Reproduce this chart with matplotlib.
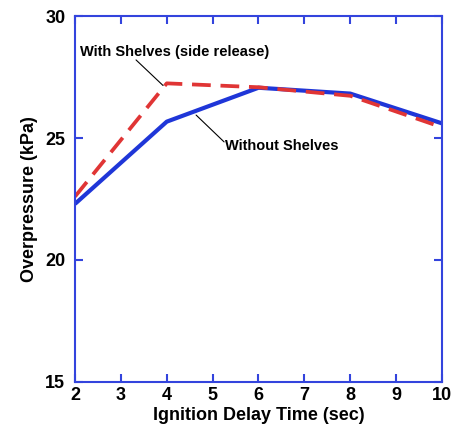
import matplotlib.pyplot as plt

plt.rcParams["font.family"] = ["Liberation Sans", "DejaVu Sans"]
plt.rcParams["font.weight"] = "bold"

delay = [2, 4, 6, 8, 10]
without_shelves = [22.3, 25.67, 27.06, 26.82, 25.6]
with_shelves = [22.6, 27.24, 27.08, 26.73, 25.44]

fig = plt.figure(figsize=(4.58, 4.28), dpi=100)
ax = fig.add_axes([0.1638, 0.1075, 0.8012, 0.8551])

ax.plot(delay, without_shelves, color="#1f36d8", lw=3.0, solid_capstyle="butt")
ax.plot(delay, with_shelves, color="#e03535", lw=2.7, dashes=(5, 2.6))

ax.set_xlim(2, 10)
ax.set_ylim(15, 30)
ax.set_xticks(range(2, 11))
ax.set_yticks([15, 20, 25, 30])
for s in ax.spines.values():
    s.set_color("#3344dd")
    s.set_linewidth(1.5)
ax.tick_params(direction="in", length=6, width=1.5, color="#3344dd",
               top=True, right=True, labelsize=13)
ax.tick_params(axis="x", pad=3.5)
ax.tick_params(axis="y", pad=7)
ax.set_xlabel("Ignition Delay Time (sec)", fontsize=13, fontweight="bold", labelpad=2)
ax.set_ylabel("Overpressure (kPa)", fontsize=13, fontweight="bold", labelpad=5)

# labels with leader lines
ax.text(2.11, 28.52, "With Shelves (side release)", fontsize=10.5,
        fontweight="bold", va="center", ha="left")
ax.annotate("", xy=(3.92, 27.15), xytext=(3.33, 28.2),
            arrowprops=dict(arrowstyle="-", color="black", lw=0.8,
                            shrinkA=0, shrinkB=0))
ax.text(5.27, 24.67, "Without Shelves", fontsize=10.5,
        fontweight="bold", va="center", ha="left")
ax.annotate("", xy=(4.64, 25.94), xytext=(5.25, 24.84),
            arrowprops=dict(arrowstyle="-", color="black", lw=0.8,
                            shrinkA=0, shrinkB=0))

fig.savefig("out.png", dpi=100)
